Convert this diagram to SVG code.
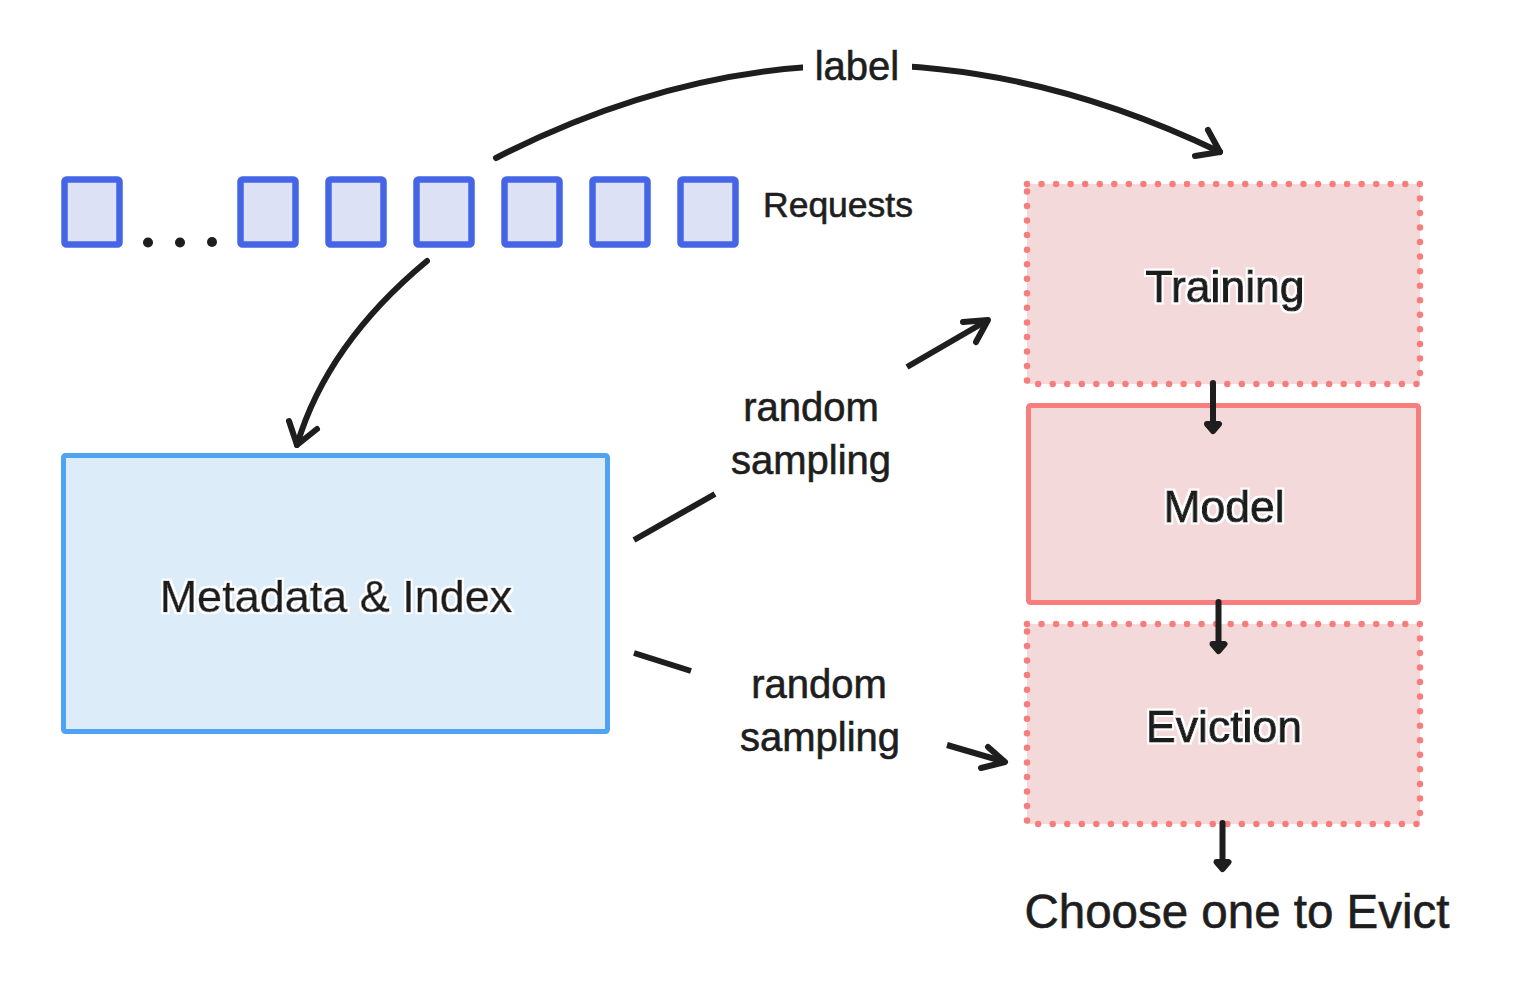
<svg xmlns="http://www.w3.org/2000/svg" width="1538" height="1004" viewBox="0 0 1538 1004">
<defs>
<filter id="halo" x="-10%" y="-30%" width="120%" height="160%">
<feMorphology in="SourceAlpha" operator="dilate" radius="2" result="d"/>
<feFlood flood-color="#ffffff" result="w"/>
<feComposite in="w" in2="d" operator="in" result="wh"/>
<feMerge><feMergeNode in="wh"/><feMergeNode in="SourceGraphic"/></feMerge>
</filter>
</defs>
<style>
.sq{fill:#dde1f6;stroke:#4665e6;stroke-width:6.5;}
.conn{fill:none;stroke:#1e1e1e;stroke-width:6;stroke-linecap:round;stroke-linejoin:round;}
.cut{fill:none;stroke:#1e1e1e;stroke-width:6;stroke-linecap:butt;}
.dot{fill:#f4d9da;stroke:#f87e7e;stroke-width:6.5;stroke-dasharray:0 14.55;stroke-linecap:round;}
.t{font-family:"Liberation Sans",Arial,sans-serif;fill:#1e1e1e;stroke:#1e1e1e;stroke-width:0.6;}
.b{stroke-width:1.1;}
</style>
<rect width="1538" height="1004" fill="#ffffff"/>
<g id="requests">
<rect class="sq" x="64.5" y="179.5" width="55" height="65" rx="2"/>
<circle cx="148" cy="242.5" r="5" fill="#1e1e1e"/>
<circle cx="180" cy="242.5" r="5" fill="#1e1e1e"/>
<circle cx="212" cy="242" r="5" fill="#1e1e1e"/>
<rect class="sq" x="240.5" y="179.5" width="55" height="65" rx="2"/>
<rect class="sq" x="328.5" y="179.5" width="55" height="65" rx="2"/>
<rect class="sq" x="416.5" y="179.5" width="55" height="65" rx="2"/>
<rect class="sq" x="504.5" y="179.5" width="55" height="65" rx="2"/>
<rect class="sq" x="592.5" y="179.5" width="55" height="65" rx="2"/>
<rect class="sq" x="680.5" y="179.5" width="55" height="65" rx="2"/>
<text class="t" x="763" y="217" font-size="35.5">Requests</text>
</g>
<g id="metadata">
<rect x="63.5" y="455.5" width="544" height="276" rx="2" fill="#ddecf9" stroke="#4ea3f2" stroke-width="5"/>
<text class="t" filter="url(#halo)" x="336" y="612" font-size="45" text-anchor="middle">Metadata &amp; Index</text>
</g>
<g id="training">
<rect class="dot" x="1027" y="184" width="393" height="200"/>
<text class="t b" filter="url(#halo)" x="1225" y="302" font-size="44.5" text-anchor="middle">Training</text>
</g>
<g id="model">
<rect x="1028.5" y="405.5" width="390" height="197" rx="2" fill="#f4d9da" stroke="#f87e7e" stroke-width="5"/>
<text class="t b" filter="url(#halo)" x="1224" y="522" font-size="44.5" text-anchor="middle">Model</text>
</g>
<g id="eviction">
<rect class="dot" x="1027" y="624" width="393" height="200"/>
<text class="t b" filter="url(#halo)" x="1224" y="742" font-size="44.5" text-anchor="middle">Eviction</text>
</g>
<g id="choose">
<text class="t" x="1237" y="928" font-size="47.5" text-anchor="middle">Choose one to Evict</text>
</g>
<g id="connectors">
<path class="conn" d="M496,158 Q852,-25 1220,152"/>
<rect x="803" y="35" width="109" height="60" fill="#ffffff"/>
<path class="conn" d="M1195,156 L1220,152 L1208,130"/>
<text class="t" x="857" y="80" font-size="40" text-anchor="middle">label</text>
<path class="conn" d="M427,261 Q327,344 297,445"/>
<path class="conn" d="M289,421 L297,445 L317,429"/>
<path class="cut" d="M634,540 L715,494"/>
<path class="cut" d="M907,367 L988,320"/>
<path class="conn" d="M963,322 L988,320 L976,342"/>
<text class="t" x="811" y="421" font-size="40" text-anchor="middle">random</text>
<text class="t" x="811" y="474" font-size="40" text-anchor="middle">sampling</text>
<path class="cut" d="M634,653 L691,671"/>
<path class="cut" d="M947,745 L1005,762"/>
<path class="conn" d="M988,747 L1005,762 L981,768"/>
<text class="t" x="819" y="698" font-size="40" text-anchor="middle">random</text>
<text class="t" x="820" y="751" font-size="40" text-anchor="middle">sampling</text>
<path class="conn" d="M1213,383 L1213,430"/>
<path class="conn" d="M1207,424 L1213,431 L1219,424 Z"/>
<path class="conn" d="M1218.5,602 L1218.5,650"/>
<path class="conn" d="M1212.5,644 L1218.5,651 L1224.5,644 Z"/>
<path class="conn" d="M1222.5,823 L1222.5,868"/>
<path class="conn" d="M1216.5,862 L1222.5,869 L1228.5,862 Z"/>
</g>
</svg>
